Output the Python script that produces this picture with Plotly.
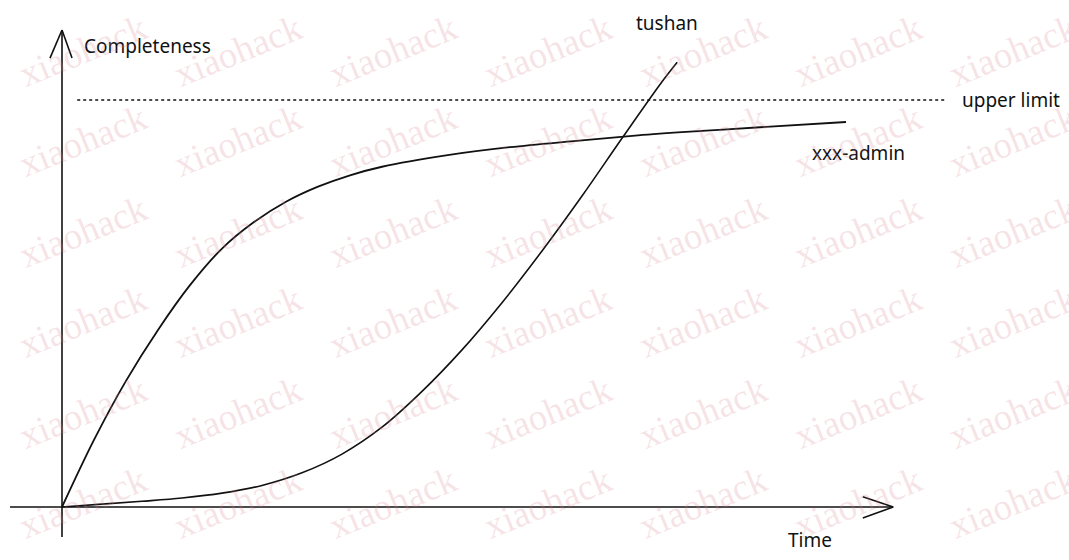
import plotly.graph_objects as go

# ---- data (time units, completeness %) ----
xxx_admin_t = [0, 0.4, 0.8, 1.2, 1.6, 2.0, 2.4, 2.8, 3.2, 3.6, 4.0, 4.8, 5.6, 6.4, 7.2, 8.0, 8.8, 9.8]
xxx_admin_c = [0, 16.5, 31.0, 43.5, 54.5, 63.5, 70.0, 75.0, 78.7, 81.5, 83.6, 86.4, 88.4, 89.9, 91.3, 92.4, 93.4, 94.6]

tushan_t = [0, 0.5, 1.0, 1.5, 2.0, 2.5, 3.0, 3.5, 4.0, 4.5, 5.0, 5.5, 6.0, 6.5, 7.0, 7.5, 7.69]
tushan_c = [0, 0.7, 1.4, 2.2, 3.4, 5.3, 8.4, 13.0, 19.6, 28.4, 38.6, 50.2, 62.9, 76.4, 90.6, 104.5, 109.3]

upper_limit = 100
limit_t = [0.19, 11.04]

series_labels = ["xxx-admin", "tushan"]
axis_titles = {"x": "Time", "y": "Completeness"}
limit_label = "upper limit"
watermark = "xiaohack"

HAND = "Noto Sans, Lato, sans-serif"
INK = "#111111"

fig = go.Figure()

fig.add_trace(go.Scatter(x=xxx_admin_t, y=xxx_admin_c, mode="lines",
                         line=dict(color=INK, width=1.8, shape="spline", smoothing=1.0),
                         name=series_labels[0], hoverinfo="skip"))
fig.add_trace(go.Scatter(x=tushan_t, y=tushan_c, mode="lines",
                         line=dict(color=INK, width=1.6, shape="spline", smoothing=1.0),
                         name=series_labels[1], hoverinfo="skip"))
fig.add_trace(go.Scatter(x=limit_t, y=[upper_limit, upper_limit], mode="lines",
                         line=dict(color=INK, width=1.6, dash="dot"),
                         name=limit_label, hoverinfo="skip"))

# hand-drawn style axes with arrows (data coordinates)
ax = dict(color=INK, width=1.6)
fig.add_shape(type="line", x0=-0.65, y0=0, x1=10.39, y1=0, line=ax)
fig.add_shape(type="line", x0=10.01, y0=2.5, x1=10.39, y1=0, line=ax)
fig.add_shape(type="line", x0=10.01, y0=-2.7, x1=10.39, y1=0, line=ax)
fig.add_shape(type="line", x0=0, y0=-7.4, x1=0, y1=117.2, line=ax)
fig.add_shape(type="line", x0=-0.15, y0=110.3, x1=0, y1=117.2, line=ax)
fig.add_shape(type="line", x0=0.125, y0=110.3, x1=0, y1=117.2, line=ax)

# labels
def label(text, x, y, size=19):
    fig.add_annotation(text=text, x=x, y=y, xref="x", yref="y", showarrow=False,
                       xanchor="left", yanchor="middle",
                       font=dict(family=HAND, size=size, color=INK))

label(axis_titles["y"], 0.25, 113.2)
label(axis_titles["x"], 9.05, -8.1)
label(series_labels[1], 7.15, 119.0)
label(series_labels[0], 9.35, 87.0)
label(limit_label, 11.22, 100.0)

# watermark grid (paper coordinates)
W, H = 1069, 560
for j in range(7):
    for i in range(-1, 7):
        cx = 83 + 155 * j
        cy = 50 + 90.5 * i
        fig.add_annotation(text=watermark, x=cx / W, y=1 - cy / H, xref="paper", yref="paper",
                           xanchor="center", yanchor="middle",
                           showarrow=False, textangle=-22,
                           font=dict(family="Liberation Serif, serif", size=37,
                                     color="rgba(215,130,145,0.22)"))

fig.update_layout(
    width=W, height=H,
    margin=dict(l=0, r=0, t=0, b=0),
    paper_bgcolor="white", plot_bgcolor="white",
    showlegend=False,
    xaxis=dict(range=[-62 / 80, (W - 62) / 80], visible=False, fixedrange=True),
    yaxis=dict(range=[-53 / 4.07, 507 / 4.07], visible=False, fixedrange=True),
)

fig.write_html("out.html", config={"displayModeBar": False},
               post_script="document.body.style.margin='0px';")
